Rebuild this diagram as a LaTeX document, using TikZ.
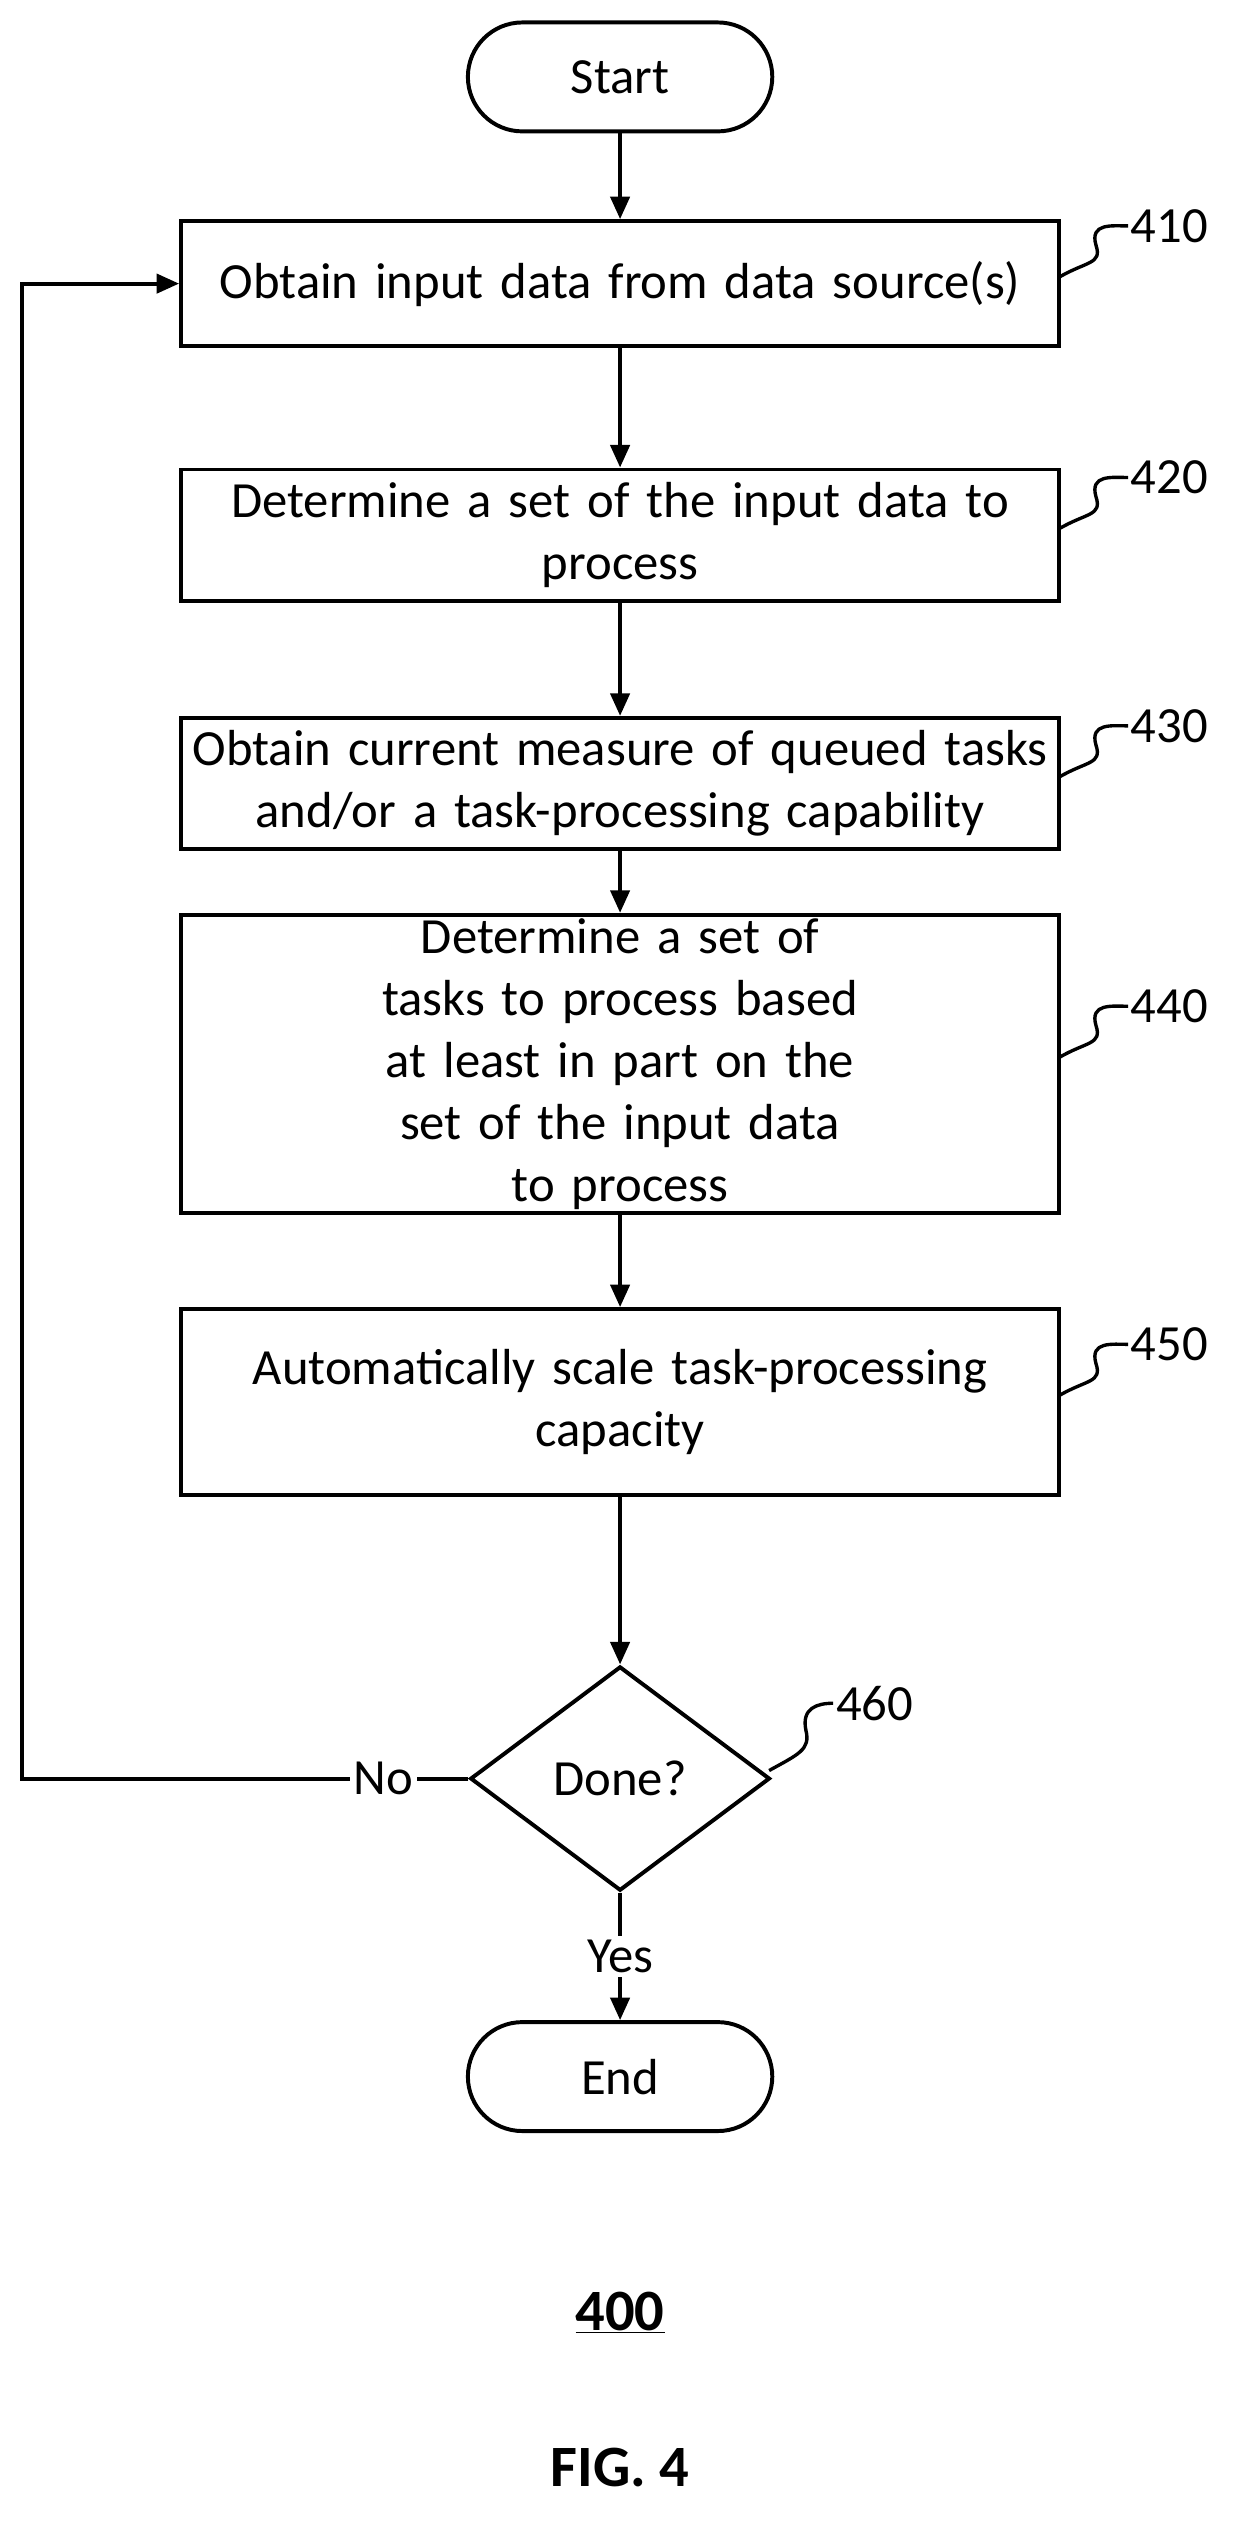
\documentclass[tikz,border=0pt]{standalone}
\usepackage{fontspec}
\setmainfont{Carlito}
\usetikzlibrary{shapes.geometric,arrows.meta}
\tikzset{
  >={Triangle[length=20pt,width=17pt]},
  procbox/.style={
    rectangle,
    draw=black, line width=3.5pt,
    minimum width=27.4cm,
    text width=27cm,
    align=center,
    font=\fontsize{45}{55}\selectfont},
  term/.style={
    rectangle, rounded corners=1.7cm,
    draw=black, line width=3.5pt,
    minimum width=9.5cm, minimum height=3.4cm,
    font=\fontsize{45}{55}\selectfont},
  decide/.style={
    diamond, aspect=1.34, inner sep=0pt,
    draw=black, line width=3.5pt,
    minimum width=9.35cm, minimum height=7cm,
    font=\fontsize{45}{55}\selectfont},
  line/.style={draw, line width=3.5pt, ->},
  tag/.style={font=\fontsize{45}{50}\selectfont, anchor=west, inner sep=1pt},
  squig/.style={line width=3pt},
}
\begin{document}
\begin{tikzpicture}[x=0.05cm,y=-0.05cm]
\useasboundingbox (0,0) rectangle (770,1574);
\node[term] (start) at (387,48) {Start};
\node[procbox, minimum height=3.9cm] (b410) at (387,177) {Obtain input data from data source(s)};
\node[procbox, minimum height=4.1cm] (b420) at (387,334) {Determine a set of the input data to\\ process};
\node[procbox, minimum height=4.1cm] (b430) at (387,489) {Obtain current measure of queued tasks\\ and/or a task-processing capability};
\node[procbox, minimum height=5.8cm] (b440) at (387,664) {Determine a set of tasks to process based\\ at least in part on the set of the input data\\ to process};
\node[procbox, minimum height=5.8cm] (b450) at (387,875) {Automatically scale task-processing\\ capacity};
\node[decide] (done) at (387,1110) {Done?};
\node[term] (end) at (387,1296) {End};
\node[font=\fontsize{52}{60}\selectfont\bfseries] (fignum) at (387,1443) {\underline{400}};
\node[font=\fontsize{52}{60}\selectfont\bfseries] (figcap) at (387,1540) {FIG. 4};

% main flow
\draw[line] (start) -- (b410);
\draw[line] (b410) -- (b420);
\draw[line] (b420) -- (b430);
\draw[line] (b430) -- (b440);
\draw[line] (b440) -- (b450);
\draw[line] (b450) -- (done);
\draw[line] (done) -- node[fill=white, font=\fontsize{45}{50}\selectfont] (yes) {Yes} (end);

% loop back
\coordinate (loopA) at (14,1110);
\coordinate (loopB) at (14,177);
\draw[line] (done.west) -- node[pos=0.19, fill=white, font=\fontsize{45}{50}\selectfont] (no) {No} (loopA) -- (loopB) -- (b410.west);

% reference numerals
\foreach \n/\y in {410/177, 420/334, 430/489, 440/664, 450/875}{
  \coordinate (s\n) at (661,\y-4);
  \draw[squig] (s\n) .. controls (678,\y-14) and (688,\y-12) .. (684,\y-24)
    .. controls (680,\y-38) and (694,\y-36) .. (704,\y-18-18)
    node[tag] (t\n) {\n};
}
\coordinate (s460) at (480,1105);
\draw[squig] (s460) .. controls (498,1095) and (506,1092) .. (503,1080)
  .. controls (500,1066) and (510,1063) .. (520,1063)
  node[tag] (t460) {460};
\end{tikzpicture}
\end{document}
